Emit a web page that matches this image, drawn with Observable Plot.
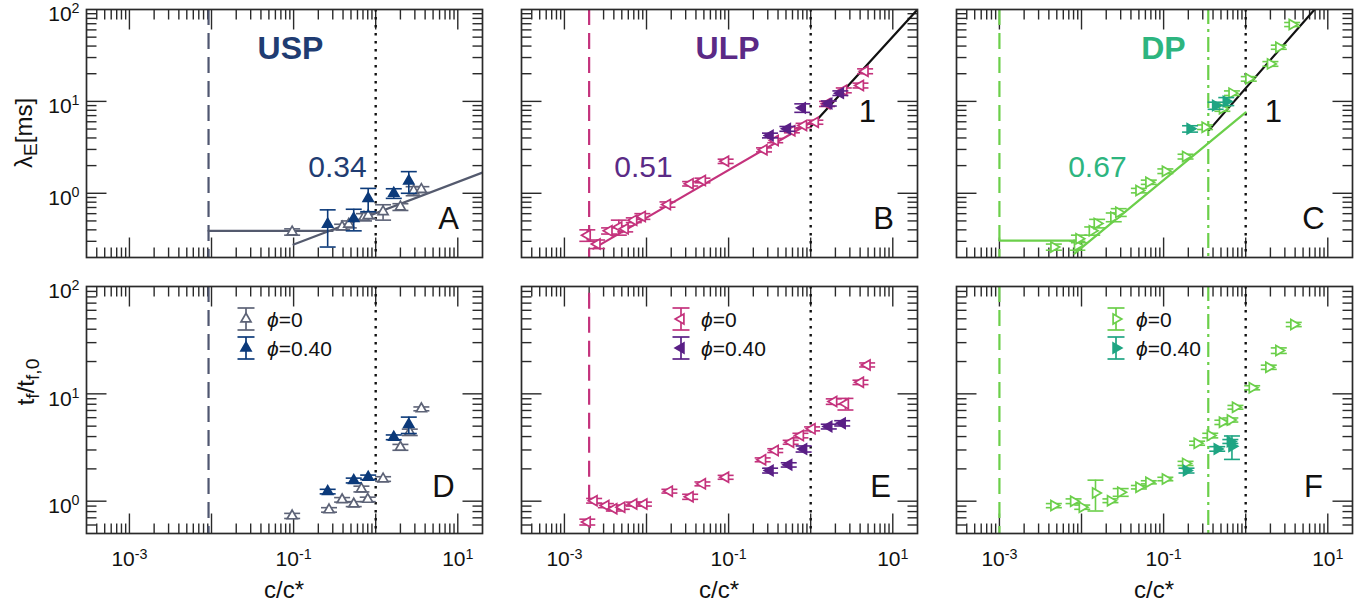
<!DOCTYPE html>
<html><head><meta charset="utf-8">
<script src="https://cdn.jsdelivr.net/npm/d3@7"></script>
<script src="https://cdn.jsdelivr.net/npm/@observablehq/plot@0.6"></script>
<style>
body{margin:0;background:#fff;}
#wrap{position:relative;width:1372px;height:608px;overflow:hidden;font-family:"Liberation Sans",Arial,Helvetica,sans-serif;background:#fff;}
.ttl{position:absolute;white-space:nowrap;font-size:24px;color:#111;transform:translate(-50%,-50%);}
.rot{transform:translate(-50%,-50%) rotate(-90deg);}
.ttl sub{font-size:0.8em;vertical-align:-0.25em;line-height:0;}
</style></head>
<body><div id="wrap"></div>
<script>
// ---------------- data ----------------
const X_DOMAIN = [3e-4, 20];
const Y_DOMAIN_TOP = [0.2, 100];
const Y_DOMAIN_BOTTOM = [0.5, 100];
const X_LABEL_TICKS = [1e-3, 1e-1, 1e1];
const Y_LABEL_TICKS = [1, 10, 100];

// Panel A (USP, lambda_E)
const A_open_x = [0.096, 0.39, 0.47, 0.72, 0.81, 1.23, 2.0, 2.9, 3.6];
const A_open_y = [0.38, 0.43, 0.46, 0.55, 0.57, 0.63, 0.71, 1.06, 1.1];
const A_open_err = [0.03, 0.03, 0.04, 0.05, 0.04, 0.12, 0.06, 0.12, 0.08];
const A_fill_x = [0.26, 0.54, 0.81, 1.66, 2.53];
const A_fill_y = [0.46, 0.53, 0.88, 1.0, 1.36];
const A_fill_err = [0.2, 0.14, 0.25, 0.12, 0.36];
const A_flat_x = [0.0092, 0.3], A_flat_y = [0.39, 0.39];
const A_fit_x = [0.1, 20], A_fit_y = [0.277, 1.68];
const A_dash = 0.0092;

// Panel B (ULP, lambda_E)
const B_open_x = [0.0019, 0.0025, 0.0035, 0.0046, 0.0055, 0.007, 0.0089, 0.018, 0.034, 0.048, 0.092, 0.27, 0.37, 0.59, 0.82, 1.14, 1.58, 2.53, 4.04, 4.6];
const B_open_y = [0.35, 0.28, 0.39, 0.43, 0.41, 0.51, 0.56, 0.755, 1.27, 1.38, 2.23, 2.97, 3.75, 4.8, 5.47, 5.94, 9.4, 13.2, 14.9, 21.3];
const B_open_err = [0.05, 0.03, 0.03, 0.08, 0.03, 0.03, 0.04, 0.05, 0.07, 0.08, 0.12, 0.15, 0.2, 0.25, 0.3, 0.3, 0.6, 0.8, 0.9, 1.3];
const B_fill_x = [0.32, 0.52, 0.79, 1.66, 2.3];
const B_fill_y = [4.26, 5.03, 8.5, 9.5, 12.3];
const B_fill_err = [0.25, 0.3, 0.9, 0.6, 0.7];
const B_fit_x = [0.00225, 1], B_fit_y = [0.25, 5.9];
const B_fit1_x = [1, 20], B_fit1_y = [5.3, 100];
const B_dash = 0.002;

// Panel C (DP, lambda_E)
const C_open_x = [0.0046, 0.0089, 0.0093, 0.0135, 0.0155, 0.0247, 0.0284, 0.05, 0.066, 0.105, 0.185, 0.32, 0.52, 0.68, 1.09, 2.0, 2.53, 3.68];
const C_open_y = [0.26, 0.27, 0.32, 0.39, 0.47, 0.55, 0.62, 1.07, 1.32, 1.74, 2.51, 5.24, 8.3, 12.3, 17.6, 25.6, 38.9, 68.7];
const C_open_err = [0.02, 0.03, 0.03, 0.04, 0.05, 0.06, 0.06, 0.06, 0.07, 0.1, 0.15, 0.3, 0.5, 0.7, 1.0, 1.5, 2.0, 3.5];
const C_fill_x = [0.21, 0.43, 0.58];
const C_fill_y = [5.03, 9.0, 10.0];
const C_fill_err = [0.4, 0.8, 1.0];
const C_flat_x = [0.001, 0.009], C_flat_y = [0.306, 0.306];
const C_fit_x = [0.0082, 1], C_fit_y = [0.22, 7.6];
const C_fit1_x = [0.36, 6.9], C_fit1_y = [4.9, 100];
const C_dash = 0.001, C_dashdot = 0.35;

// Panel D (USP, t_f/t_f,0)
const D_open_x = [0.096, 0.27, 0.39, 0.54, 0.67, 0.8, 1.23, 2.0, 2.6, 3.6];
const D_open_y = [0.73, 0.83, 1.03, 0.94, 1.30, 1.04, 1.61, 3.18, 4.39, 7.25];
const D_open_err = [0.04, 0.04, 0.05, 0.05, 0.08, 0.05, 0.08, 0.2, 0.3, 0.3];
const D_fill_x = [0.26, 0.54, 0.81, 1.66, 2.53];
const D_fill_y = [1.23, 1.56, 1.67, 3.94, 5.17];
const D_fill_err = [0.06, 0.08, 0.08, 0.2, 0.9];

// Panel E (ULP, t_f/t_f,0)
const E_open_x = [0.0019, 0.0023, 0.0032, 0.004, 0.005, 0.007, 0.0093, 0.019, 0.034, 0.048, 0.092, 0.26, 0.37, 0.57, 0.75, 1.04, 1.91, 2.65, 4.04, 4.87];
const E_open_y = [0.64, 1.01, 0.91, 0.85, 0.88, 0.94, 0.94, 1.24, 1.10, 1.45, 1.67, 2.43, 2.96, 3.54, 4.09, 4.72, 8.48, 8.07, 12.8, 18.6];
const E_open_err = [0.04, 0.05, 0.04, 0.04, 0.04, 0.04, 0.04, 0.05, 0.06, 0.06, 0.07, 0.1, 0.12, 0.15, 0.2, 0.2, 0.5, 1.0, 0.6, 0.8];
const E_fill_x = [0.32, 0.54, 0.82, 1.66, 2.42];
const E_fill_y = [1.93, 2.18, 3.07, 4.96, 5.32];
const E_fill_err = [0.1, 0.1, 0.2, 0.25, 0.3];

// Panel F (DP, t_f/t_f,0)
const F_open_x = [0.0046, 0.008, 0.0102, 0.0148, 0.0225, 0.03, 0.05, 0.066, 0.105, 0.185, 0.256, 0.37, 0.52, 0.65, 0.75, 1.2, 1.91, 2.53, 3.85];
const F_open_y = [0.91, 1.0, 0.88, 1.19, 1.01, 1.21, 1.35, 1.5, 1.61, 2.25, 3.47, 4.09, 5.43, 5.71, 7.5, 11.4, 17.7, 25.3, 44.3];
const F_open_err = [0.04, 0.05, 0.04, 0.38, 0.04, 0.1, 0.05, 0.05, 0.06, 0.1, 0.15, 0.2, 0.25, 0.25, 0.3, 0.5, 0.8, 1.5, 2.0];
const F_fill_x = [0.19, 0.45, 0.65, 0.68];
const F_fill_y = [1.93, 3.07, 3.6, 3.25];
const F_fill_err = [0.1, 0.15, 0.15, 0.8];

const OVERLAP = 1; // dotted line c/c* = 1

// ---------------- helpers ----------------
const FONT = '"Liberation Sans", Arial, Helvetica, sans-serif';
const wrap = document.getElementById("wrap");
const pts = (xs, ys, es) => xs.map((x, i) => ({x, y: ys[i], e: es ? es[i] : 0}));
const xy = (xs, ys) => xs.map((x, i) => ({x, y: ys[i]}));
const SQ3 = Math.sqrt(3);
function tri(dir, s = 2.9) {
  return {draw(c) {
    if (dir === "up") { c.moveTo(0, -2 * s); c.lineTo(SQ3 * s, s); c.lineTo(-SQ3 * s, s); }
    else if (dir === "left") { c.moveTo(-2 * s, 0); c.lineTo(s, -SQ3 * s); c.lineTo(s, SQ3 * s); }
    else { c.moveTo(2 * s, 0); c.lineTo(-s, -SQ3 * s); c.lineTo(-s, SQ3 * s); }
    c.closePath();
  }};
}
const seg = (dx, dy) => ({draw(c) { c.moveTo(0, 0); c.lineTo(dx, dy); }});
const cap = (w) => ({draw(c) { c.moveTo(-w, 0); c.lineTo(w, 0); }});
function logTicks(lo, hi) {
  const major = [], minor = [];
  for (let e = Math.floor(Math.log10(lo)); e <= Math.ceil(Math.log10(hi)); e++) {
    for (let m = 1; m <= 9; m++) {
      const v = m * Math.pow(10, e);
      if (v <= lo * 1.001 || v >= hi / 1.001) continue;
      (m === 1 ? major : minor).push(v);
    }
  }
  return {major, minor};
}
const fmt = d => "10^" + Math.round(Math.log10(d));

function series(data, dir, color, filled) {
  const eb = data.filter(d => d.e > 0);
  return [
    Plot.ruleX(eb, {x: "x", y1: d => d.y - d.e, y2: d => d.y + d.e, stroke: color, strokeWidth: 1.6}),
    Plot.dot(eb, {x: "x", y: d => d.y + d.e, symbol: cap(8), stroke: color, strokeWidth: 1.6, fill: "none"}),
    Plot.dot(eb, {x: "x", y: d => d.y - d.e, symbol: cap(8), stroke: color, strokeWidth: 1.6, fill: "none"}),
    Plot.dot(data, {x: "x", y: "y", symbol: tri(dir), stroke: color, strokeWidth: 1.7, fill: filled ? color : "white"})
  ];
}

function supers(svg, raise, size) {
  svg.querySelectorAll("text").forEach(t => {
    const m = (t.textContent || "").match(/^10\^(-?\d+)$/);
    if (!m || t.children.length) return;
    t.textContent = "10";
    const sp = document.createElementNS("http://www.w3.org/2000/svg", "tspan");
    sp.setAttribute("dy", `-${raise}em`);
    sp.setAttribute("font-size", `${size}em`);
    sp.textContent = m[1];
    t.appendChild(sp);
  });
}

function makePanel(o) {
  const ml = 70, mr = 14, mt = 12, mb = 48, W = 396;
  const AX = "#2a2a2a";
  const xt = logTicks(X_DOMAIN[0], X_DOMAIN[1]);
  const yt = logTicks(o.ydom[0], o.ydom[1]);
  const marks = [
    Plot.dot(xt.major, {x: d => d, frameAnchor: "bottom", symbol: seg(0, -20), stroke: AX, strokeWidth: 1.4}),
    Plot.dot(xt.minor, {x: d => d, frameAnchor: "bottom", symbol: seg(0, -10), stroke: AX, strokeWidth: 1.4}),
    Plot.dot(xt.major, {x: d => d, frameAnchor: "top", symbol: seg(0, 20), stroke: AX, strokeWidth: 1.4}),
    Plot.dot(xt.minor, {x: d => d, frameAnchor: "top", symbol: seg(0, 10), stroke: AX, strokeWidth: 1.4}),
    Plot.dot(yt.major, {y: d => d, frameAnchor: "left", symbol: seg(20, 0), stroke: AX, strokeWidth: 1.4}),
    Plot.dot(yt.minor, {y: d => d, frameAnchor: "left", symbol: seg(10, 0), stroke: AX, strokeWidth: 1.4}),
    Plot.dot(yt.major, {y: d => d, frameAnchor: "right", symbol: seg(-20, 0), stroke: AX, strokeWidth: 1.4}),
    Plot.dot(yt.minor, {y: d => d, frameAnchor: "right", symbol: seg(-10, 0), stroke: AX, strokeWidth: 1.4}),
    ...o.marks,
    Plot.frame({stroke: AX, strokeWidth: 1.7})
  ];
  const svgAxes = [];
  if (o.showY) marks.push(Plot.axisY({ticks: Y_LABEL_TICKS, anchor: "left", tickSize: 0, tickPadding: 7, dy: 5, fontSize: 21, label: null, tickFormat: fmt, ariaLabel: "y-labels"}));
  if (o.showX) marks.push(Plot.axisX({ticks: X_LABEL_TICKS, anchor: "bottom", tickSize: 0, tickPadding: 18, fontSize: 21, label: null, tickFormat: fmt, ariaLabel: "x-labels"}));
  const svg = Plot.plot({
    width: W + ml + mr, height: o.h + mt + mb,
    marginLeft: ml, marginRight: mr, marginTop: mt, marginBottom: mb,
    x: {type: "log", domain: X_DOMAIN, axis: null},
    y: {type: "log", domain: o.ydom, axis: null},
    style: `position:absolute;left:${o.L - ml}px;top:${o.T - mt}px;background:transparent;overflow:visible;font-family:${FONT};color:#111;max-width:none;`,
    marks
  });
  // superscripts: y labels slightly lower raise so the top label stays in view
  svg.querySelectorAll('g[aria-label="y-labels"]').forEach(g => supers(g, 0.45, 0.64));
  supers(svg, 0.55, 0.68);
  wrap.appendChild(svg);
}

const txt = (t, x, y, fill, size, weight = "normal") =>
  Plot.text([t], {x: () => x, y: () => y, text: d => d, fill, fontSize: size, fontWeight: weight, fontFamily: FONT});

// colours
const C_USP_O = "#5d6377", C_USP_F = "#0c3a7a", C_USP_T = "#1f3c72", C_USP_L = "#545a6e";
const C_ULP_O = "#c4327c", C_ULP_F = "#5a1f86", C_ULP_T = "#5b2a86";
const C_DP_O = "#6bcf4a", C_DP_F = "#1fa583", C_DP_T = "#2db57f";
const LW = 2.2;
const DASH = "16,8", DOTS = "2.4,5.6", DASHDOT = "15,5,3,5";

// ---- Panel A
makePanel({L: 86, T: 9, h: 248, ydom: Y_DOMAIN_TOP, showY: true, showX: false, marks: [
  Plot.ruleX([A_dash], {stroke: "#4f5670", strokeWidth: 2.2, strokeDasharray: DASH}),
  Plot.ruleX([OVERLAP], {stroke: "#111", strokeWidth: 2.4, strokeDasharray: DOTS}),
  Plot.line(xy(A_flat_x, A_flat_y), {x: "x", y: "y", stroke: C_USP_L, strokeWidth: LW, clip: true}),
  Plot.line(xy(A_fit_x, A_fit_y), {x: "x", y: "y", stroke: C_USP_L, strokeWidth: LW, clip: true}),
  ...series(pts(A_open_x, A_open_y, A_open_err), "up", C_USP_O, false),
  ...series(pts(A_fill_x, A_fill_y, A_fill_err), "up", C_USP_F, true),
  txt("USP", 0.0916, 37.7, C_USP_T, 32, "bold"),
  txt("0.34", 0.342, 1.91, C_USP_T, 30),
  txt("A", 7.7, 0.53, "#111", 31)
]});

// ---- Panel B
makePanel({L: 521, T: 9, h: 248, ydom: Y_DOMAIN_TOP, showY: false, showX: false, marks: [
  Plot.ruleX([B_dash], {stroke: C_ULP_O, strokeWidth: 2.2, strokeDasharray: DASH}),
  Plot.ruleX([OVERLAP], {stroke: "#111", strokeWidth: 2.4, strokeDasharray: DOTS}),
  Plot.line(xy(B_fit_x, B_fit_y), {x: "x", y: "y", stroke: C_ULP_O, strokeWidth: LW, clip: true}),
  Plot.line(xy(B_fit1_x, B_fit1_y), {x: "x", y: "y", stroke: "#111", strokeWidth: LW, clip: true}),
  ...series(pts(B_open_x, B_open_y, B_open_err), "left", C_ULP_O, false),
  ...series(pts(B_fill_x, B_fill_y, B_fill_err), "left", C_ULP_F, true),
  txt("ULP", 0.097, 37.7, C_ULP_T, 32, "bold"),
  txt("0.51", 0.0092, 1.91, C_ULP_T, 30),
  txt("1", 4.9, 7.57, "#111", 31),
  txt("B", 7.7, 0.53, "#111", 31)
]});

// ---- Panel C
makePanel({L: 956, T: 9, h: 248, ydom: Y_DOMAIN_TOP, showY: false, showX: false, marks: [
  Plot.ruleX([C_dash], {stroke: C_DP_O, strokeWidth: 2.2, strokeDasharray: DASH}),
  Plot.ruleX([C_dashdot], {stroke: C_DP_O, strokeWidth: 2.2, strokeDasharray: DASHDOT}),
  Plot.ruleX([OVERLAP], {stroke: "#111", strokeWidth: 2.4, strokeDasharray: DOTS}),
  Plot.line(xy(C_flat_x, C_flat_y), {x: "x", y: "y", stroke: C_DP_O, strokeWidth: LW, clip: true}),
  Plot.line(xy(C_fit_x, C_fit_y), {x: "x", y: "y", stroke: C_DP_O, strokeWidth: LW, clip: true}),
  Plot.line(xy(C_fit1_x, C_fit1_y), {x: "x", y: "y", stroke: "#111", strokeWidth: LW, clip: true}),
  ...series(pts(C_open_x, C_open_y, C_open_err), "right", C_DP_O, false),
  ...series(pts(C_fill_x, C_fill_y, C_fill_err), "right", C_DP_F, true),
  txt("DP", 0.0995, 37.7, C_DP_T, 32, "bold"),
  txt("0.67", 0.0156, 1.91, C_DP_T, 30),
  txt("1", 2.18, 7.57, "#111", 31),
  txt("C", 6.7, 0.53, "#111", 31)
]});

// ---- Panel D
makePanel({L: 86, T: 286, h: 247, ydom: Y_DOMAIN_BOTTOM, showY: true, showX: true, marks: [
  Plot.ruleX([A_dash], {stroke: "#4f5670", strokeWidth: 2.2, strokeDasharray: DASH}),
  Plot.ruleX([OVERLAP], {stroke: "#111", strokeWidth: 2.4, strokeDasharray: DOTS}),
  ...series(pts(D_open_x, D_open_y, D_open_err), "up", C_USP_O, false),
  ...series(pts(D_fill_x, D_fill_y, D_fill_err), "up", C_USP_F, true),
  txt("D", 6.7, 1.34, "#111", 31)
]});

// ---- Panel E
makePanel({L: 521, T: 286, h: 247, ydom: Y_DOMAIN_BOTTOM, showY: false, showX: true, marks: [
  Plot.ruleX([{x: B_dash, y1: 1.0, y2: 100}], {x: "x", y1: "y1", y2: "y2", stroke: C_ULP_O, strokeWidth: 2.2, strokeDasharray: DASH}),
  Plot.ruleX([OVERLAP], {stroke: "#111", strokeWidth: 2.4, strokeDasharray: DOTS}),
  ...series(pts(E_open_x, E_open_y, E_open_err), "left", C_ULP_O, false),
  ...series(pts(E_fill_x, E_fill_y, E_fill_err), "left", C_ULP_F, true),
  txt("E", 7.1, 1.34, "#111", 31)
]});

// ---- Panel F
makePanel({L: 956, T: 286, h: 247, ydom: Y_DOMAIN_BOTTOM, showY: false, showX: true, marks: [
  Plot.ruleX([C_dash], {stroke: C_DP_O, strokeWidth: 2.2, strokeDasharray: DASH}),
  Plot.ruleX([C_dashdot], {stroke: C_DP_O, strokeWidth: 2.2, strokeDasharray: DASHDOT}),
  Plot.ruleX([OVERLAP], {stroke: "#111", strokeWidth: 2.4, strokeDasharray: DOTS}),
  ...series(pts(F_open_x, F_open_y, F_open_err), "right", C_DP_O, false),
  ...series(pts(F_fill_x, F_fill_y, F_fill_err), "right", C_DP_F, true),
  txt("F", 6.7, 1.34, "#111", 31)
]});

// ---------------- legends ----------------
const ov = d3.select(wrap).append("svg").attr("width", 1372).attr("height", 608)
  .style("position", "absolute").style("left", 0).style("top", 0).style("pointer-events", "none")
  .style("font-family", FONT);
function legendItem(gx, cy, dir, color, filled, value, tx) {
  const g = ov.append("g");
  g.append("line").attr("x1", gx).attr("x2", gx).attr("y1", cy - 11).attr("y2", cy + 11).attr("stroke", color).attr("stroke-width", 1.7);
  [cy - 11, cy + 11].forEach(yy => g.append("line").attr("x1", gx - 8.5).attr("x2", gx + 8.5).attr("y1", yy).attr("y2", yy).attr("stroke", color).attr("stroke-width", 1.7));
  const p = d3.path(); tri(dir).draw(p);
  g.append("path").attr("d", p.toString()).attr("transform", `translate(${gx},${cy})`).attr("fill", filled ? color : "white").attr("stroke", color).attr("stroke-width", 1.7);
  const t = g.append("text").attr("x", tx).attr("y", cy).attr("dy", "0.36em").attr("font-size", 21).attr("fill", "#111");
  t.append("tspan").attr("font-style", "italic").text("ϕ");
  t.append("tspan").text("=" + value);
}
const LEG = [
  {gx: 246, tx: 267, dir: "up", o: C_USP_O, f: C_USP_F},
  {gx: 681, tx: 701, dir: "left", o: C_ULP_O, f: C_ULP_F},
  {gx: 1116, tx: 1136, dir: "right", o: C_DP_O, f: C_DP_F}
];
LEG.forEach(l => {
  legendItem(l.gx, 319, l.dir, l.o, false, "0", l.tx);
  legendItem(l.gx, 348, l.dir, l.f, true, "0.40", l.tx);
});

// ---------------- axis titles ----------------
function title(html, cx, cy, rot) {
  const d = document.createElement("div");
  d.className = "ttl" + (rot ? " rot" : "");
  d.style.left = cx + "px"; d.style.top = cy + "px";
  d.innerHTML = html;
  wrap.appendChild(d);
}
title("λ<sub>E</sub>[ms]", 24, 133, true);
title("t<sub>f</sub>/t<sub>f,0</sub>", 26, 382, true);
title("c/c*", 284, 590, false);
title("c/c*", 719, 590, false);
title("c/c*", 1154, 590, false);
</script>
</body></html>
